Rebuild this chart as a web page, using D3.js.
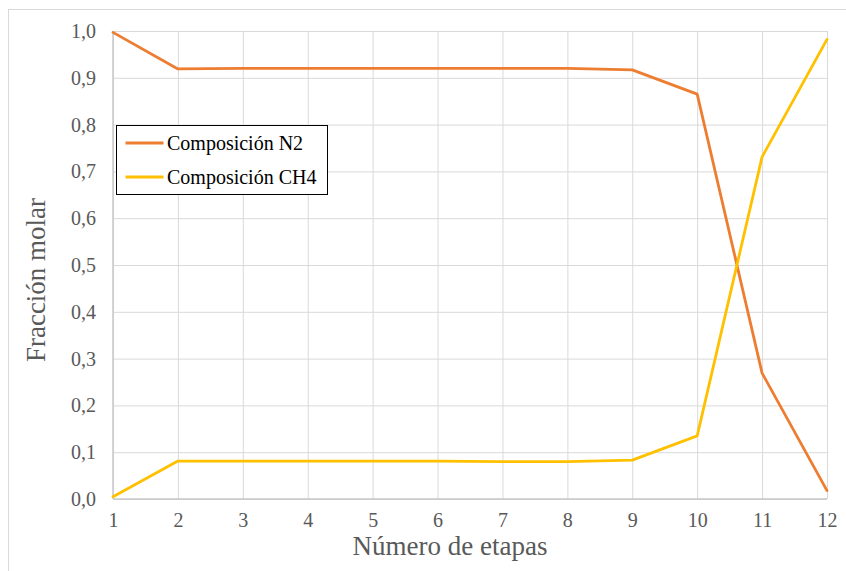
<!DOCTYPE html>
<html>
<head>
<meta charset="utf-8">
<script src="https://cdn.jsdelivr.net/npm/d3@7"></script>
<style>
  html, body { margin: 0; padding: 0; background: #fff; }
  svg { display: block; }
  text { font-family: "Liberation Serif", "Times New Roman", serif; }
</style>
</head>
<body>
<svg id="chart" width="846" height="571"></svg>
<script>
// Stage numbers and molar fractions per component
const etapas = [1, 2, 3, 4, 5, 6, 7, 8, 9, 10, 11, 12];
const composicionN2  = [0.997, 0.919, 0.920, 0.920, 0.920, 0.920, 0.920, 0.920, 0.917, 0.865, 0.269, 0.018];
const composicionCH4 = [0.005, 0.081, 0.081, 0.081, 0.081, 0.081, 0.080, 0.080, 0.083, 0.135, 0.731, 0.982];
const yTicks = [0, 0.1, 0.2, 0.3, 0.4, 0.5, 0.6, 0.7, 0.8, 0.9, 1.0];
const seriesNames = ["Composición N2", "Composición CH4"];
const seriesColors = ["#ED7D31", "#FFC000"];

const svg = d3.select("#chart");
const W = 846, H = 571;
const m = { left: 113, right: 827, top: 31, bottom: 499 };

// Outer chart frame
svg.append("rect")
  .attr("x", 8.5).attr("y", 9.5)
  .attr("width", W + 10).attr("height", H + 10)
  .attr("fill", "#fff").attr("stroke", "#D9D9D9").attr("stroke-width", 1);

const x = d3.scaleLinear().domain([1, 12]).range([m.left, m.right]);
const y = d3.scaleLinear().domain([0, 1]).range([m.bottom, m.top]);

const fmt = d => d3.format(".1f")(d).replace(".", ",");

// Horizontal gridlines + y tick labels
const yAxis = d3.axisLeft(y).tickValues(yTicks).tickSize(-(m.right - m.left)).tickPadding(17).tickFormat(fmt);
const gy = svg.append("g").attr("transform", `translate(${m.left},0)`).call(yAxis);
gy.select(".domain").remove();
gy.selectAll(".tick line").attr("stroke", "#D9D9D9").attr("stroke-width", 1);
gy.selectAll(".tick text").attr("fill", "#595959").attr("font-size", 20)
  .attr("font-family", "Liberation Serif, serif");

// Vertical gridlines + x tick labels
const xAxis = d3.axisBottom(x).tickValues(etapas).tickSize(-(m.bottom - m.top)).tickPadding(14).tickFormat(d3.format("d"));
const gx = svg.append("g").attr("transform", `translate(0,${m.bottom})`).call(xAxis);
gx.select(".domain").remove();
gx.selectAll(".tick line").attr("stroke", "#D9D9D9").attr("stroke-width", 1);
gx.selectAll(".tick text").attr("fill", "#595959").attr("font-size", 20)
  .attr("font-family", "Liberation Serif, serif");

// Axis baselines
svg.append("line").attr("x1", m.left).attr("x2", m.right).attr("y1", m.bottom).attr("y2", m.bottom)
  .attr("stroke", "#C8C8C8").attr("stroke-width", 1.5);
svg.append("line").attr("x1", m.left).attr("x2", m.left).attr("y1", m.top).attr("y2", m.bottom)
  .attr("stroke", "#C8C8C8").attr("stroke-width", 1.5);

// Series lines
const line = d3.line().x((d, i) => x(etapas[i])).y(d => y(d));
[composicionN2, composicionCH4].forEach((vals, k) => {
  svg.append("path").datum(vals)
    .attr("d", line)
    .attr("fill", "none")
    .attr("stroke", seriesColors[k])
    .attr("stroke-width", 2.8)
    .attr("stroke-linejoin", "round")
    .attr("stroke-linecap", "round");
});

// Axis titles
svg.append("text")
  .attr("x", 450).attr("y", 555)
  .attr("text-anchor", "middle")
  .attr("font-size", 27).attr("fill", "#595959")
  .text("Número de etapas");

svg.append("text")
  .attr("transform", "translate(45,280) rotate(-90)")
  .attr("text-anchor", "middle")
  .attr("font-size", 27).attr("fill", "#595959")
  .text("Fracción molar");

// Legend
const lg = svg.append("g").attr("transform", "translate(116.5,125.5)");
lg.append("rect").attr("width", 211).attr("height", 69)
  .attr("fill", "#fff").attr("stroke", "#000").attr("stroke-width", 1);
seriesNames.forEach((name, k) => {
  const yy = 17.5 + k * 34;
  lg.append("line").attr("x1", 9).attr("x2", 47).attr("y1", yy).attr("y2", yy)
    .attr("stroke", seriesColors[k]).attr("stroke-width", 2.8);
  lg.append("text").attr("x", 50.5).attr("y", yy + 6.5)
    .attr("font-size", 20).attr("fill", "#000")
    .text(name);
});
</script>
</body>
</html>
